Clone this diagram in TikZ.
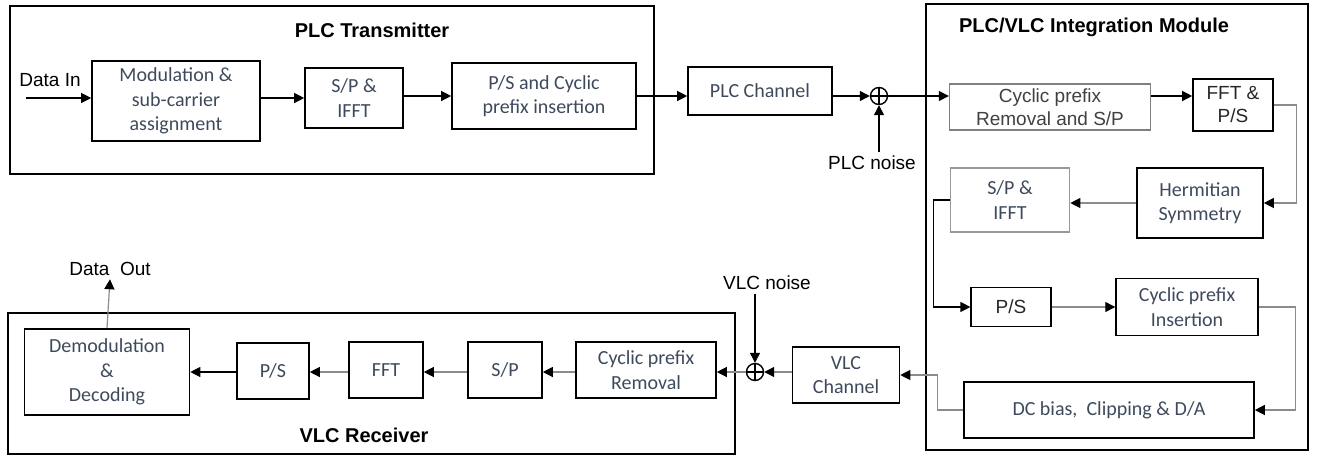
\documentclass[tikz,border=0pt]{standalone}
\usepackage{fontspec}
\setmainfont{Liberation Sans}
\newfontfamily\calibrifont{Carlito}
\usetikzlibrary{positioning,arrows.meta}
\definecolor{slate}{RGB}{62,74,92}
\definecolor{wiregray}{RGB}{140,140,140}

\begin{document}
\begin{tikzpicture}[x=1pt,y=-1pt,
frame/.style={draw,line width=1.6pt,inner sep=0pt},
blk/.style={draw,line width=1.6pt,inner sep=0pt,align=center,text=slate,
    font=\calibrifont\fontsize{20}{24.5}\selectfont},
ablk/.style={blk,text=black!85,font=\fontsize{19}{23}\selectfont},
title/.style={font=\bfseries\fontsize{20}{24}\selectfont},
lbl/.style={font=\fontsize{19}{23}\selectfont},
sumnode/.style={circle,draw,line width=1.4pt,minimum size=17pt,inner sep=0pt,
    path picture={\draw[line width=1.4pt]
    (path picture bounding box.north) -- (path picture bounding box.south)
    (path picture bounding box.west) -- (path picture bounding box.east);}},
arr/.style={line width=1.2pt,-{Triangle[length=10pt,width=10pt]}},
garr/.style={line width=1.2pt,wiregray,-{Triangle[length=10pt,width=10pt,color=black]}}]
\useasboundingbox (0,0) rectangle (1318,456);

\node (txframe) [frame,minimum width=644pt,minimum height=168pt] at (332,90) {};
\node (imframe) [frame,minimum width=382pt,minimum height=446pt] at (1117,227) {};
\node (rxframe) [frame,minimum width=727pt,minimum height=141pt] at (371.5,383.5) {};
\node (txtitle) [title] at (372,30) {PLC Transmitter};
\node (imtitle) [title] at (1094,27) {PLC/VLC Integration Module};
\node (rxtitle) [title] at (364,435) {VLC Receiver};

\coordinate (mainln) at (0,96);
\node (datain) [lbl] at (50,80) {Data In};
\coordinate (dinstart) at (26,98);
\node (mod) [blk,minimum width=168pt,minimum height=80pt] at (176,101) {Modulation \&\\sub-carrier\\assignment};
\node (spifft) [blk,minimum width=98pt,minimum height=60pt] at (354,98) {S/P \&\\IFFT};
\node (pscp) [blk,minimum width=184pt,minimum height=66pt] at (544,96) {P/S and Cyclic\\prefix insertion};
\node (plcch) [blk,minimum width=144pt,minimum height=48pt] at (760,91) {PLC Channel};
\node (sum1) [sumnode] at (879,96) {};
\node (plcnoise) [lbl] at (872,163) {PLC noise};

\node (cprem1) [ablk,draw=gray,line width=1.4pt,text=black!75,minimum width=201pt,minimum height=46pt] at (1050,107) {Cyclic prefix\\Removal and S/P};
\node (fftps) [ablk,minimum width=80pt,minimum height=52pt] at (1233,105) {FFT \&\\P/S};
\node (herm) [blk,minimum width=126pt,minimum height=70pt] at (1200,203) {Hermitian\\Symmetry};
\node (spifft2) [blk,draw=gray!80,minimum width=119pt,minimum height=64pt] at (1010,200) {S/P \&\\IFFT};
\node (ps2) [ablk,line width=1.2pt,minimum width=80pt,minimum height=39pt] at (1011,307) {P/S};
\node (cpins) [blk,line width=1.4pt,minimum width=142pt,minimum height=57pt] at (1187,307) {Cyclic prefix\\Insertion};
\node (dcb) [blk,minimum width=290pt,minimum height=56pt] at (1109,410) {DC bias,\ \ Clipping \& D/A};

\node (vlcch) [blk,minimum width=107pt,minimum height=56pt] at (846,375) {VLC\\Channel};
\node (sum2) [sumnode] at (755,372) {};
\node (vlcnoise) [lbl] at (767,283) {VLC noise};
\node (cprem2) [blk,minimum width=140pt,minimum height=56pt] at (646,370) {Cyclic prefix\\Removal};
\node (sp3) [blk,minimum width=74pt,minimum height=56pt] at (505,370) {S/P};
\node (fft3) [blk,minimum width=74pt,minimum height=56pt] at (386,370) {FFT};
\node (ps3) [blk,minimum width=72pt,minimum height=56pt] at (273,371) {P/S};
\node (demod) [blk,minimum width=165pt,minimum height=86pt] at (107,372) {Demodulation\\\&\\Decoding};
\node (dataout) [lbl] at (110,269) {Data\ \ Out};

\draw[arr] (dinstart) -- (mod.west |- dinstart);
\draw[arr] (mod.east |- spifft) -- (spifft.west);
\draw[arr] (spifft.east |- mainln) -- (pscp.west |- mainln);
\draw[arr] (pscp.east |- mainln) -- (plcch.west |- mainln);
\draw[arr] (plcch.east |- sum1) -- (sum1.west);
\draw[arr] (plcnoise.north -| sum1) -- (sum1.south);
\draw[arr] (sum1.east) -- (cprem1.west |- mainln);
\draw[arr] (cprem1.east |- mainln) -- (fftps.west |- mainln);
\draw[garr] (fftps.east) -- ++(23,0) |- (herm.east);
\draw[garr] (herm.west) -- (herm.west -| spifft2.east);
\draw[arr] (spifft2.west) -- ++(-16,0) |- (ps2.west);
\draw[garr] (ps2.east) -- (cpins.west);
\draw[garr] (cpins.east) -- ++(37,0) |- (dcb.east);
\draw[garr] (dcb.west) -- ++(-26,0) |- (vlcch.east);
\draw[garr] (vlcch.west |- sum2) -- (sum2.east);
\draw[arr] (vlcnoise.south -| sum2) -- (sum2.north);
\draw[garr] (sum2.west) -- (sum2.west -| cprem2.east);
\draw[garr] (cprem2.west |- sum2) -- (sum2 -| sp3.east);
\draw[garr] (sp3.west |- sum2) -- (sum2 -| fft3.east);
\draw[garr] (fft3.west |- sum2) -- (sum2 -| ps3.east);
\draw[arr] (ps3.west |- sum2) -- (sum2 -| demod.east);
\draw[garr] (demod.north) -- (dataout.south);
\end{tikzpicture}
\end{document}
